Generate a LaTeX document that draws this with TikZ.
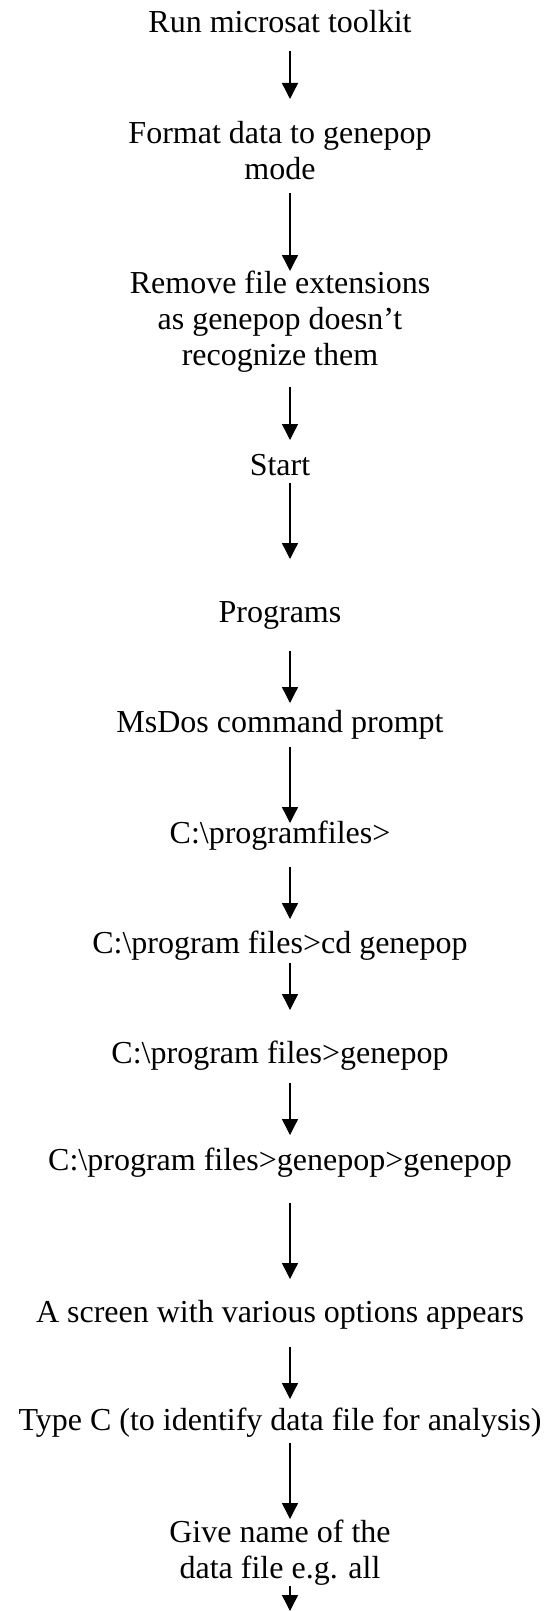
\documentclass[tikz,border=0pt]{standalone}
\usepackage{fontspec}
\setmainfont{Liberation Serif}
\usetikzlibrary{arrows.meta}
\tikzset{
  lbl/.style={inner sep=0pt, anchor=base, align=center, font=\fontsize{16pt}{18pt}\selectfont},
  arr/.style={-{Triangle[length=8pt,width=8pt]}, line width=0.7pt}
}
\begin{document}
\begin{tikzpicture}[x=0.5pt,y=-0.5pt]
\useasboundingbox (0,0) rectangle (547,1611);
\coordinate (ax) at (290,0);
\node[lbl] (n1) at (280,33) {Run microsat toolkit};
\node[lbl] (n2) at (280,179) {Format data to genepop\\mode};
\node[lbl] (n3) at (280,365) {Remove file extensions\\as genepop doesn’t\\recognize them};
\node[lbl] (n4) at (280,475) {Start};
\node[lbl] (n5) at (280,622) {Programs};
\node[lbl] (n6) at (280,732) {MsDos command prompt};
\node[lbl] (n7) at (280,843) {C:\textbackslash programfiles>};
\node[lbl] (n8) at (280,953) {C:\textbackslash program files>cd genepop};
\node[lbl] (n9) at (280,1063) {C:\textbackslash program files>genepop};
\node[lbl] (n10) at (280,1170) {C:\textbackslash program files>genepop>genepop};
\node[lbl] (n11) at (280,1322) {A screen with various options appears};
\node[lbl] (n12) at (280,1430) {Type C (to identify data file for analysis)};
\node[lbl] (n13) at (280,1578) {Give name of the\\data file e.g. all};
\coordinate (fin) at (290,1611);
\draw[arr, shorten <=9pt, shorten >=40pt] (n1.base -| ax) -- (n2.base -| ax);
\draw[arr, shorten <=7pt, shorten >=47pt] (n2.base -| ax) -- (n3.base -| ax);
\draw[arr, shorten <=11pt, shorten >=17.5pt] (n3.base -| ax) -- (n4.base -| ax);
\draw[arr, shorten <=4pt, shorten >=31.5pt] (n4.base -| ax) -- (n5.base -| ax);
\draw[arr, shorten <=14.5pt, shorten >=14.5pt] (n5.base -| ax) -- (n6.base -| ax);
\draw[arr, shorten <=7.5pt, shorten >=10pt] (n6.base -| ax) -- (n7.base -| ax);
\draw[arr, shorten <=12pt, shorten >=17pt] (n7.base -| ax) -- (n8.base -| ax);
\draw[arr, shorten <=5pt, shorten >=26.5pt] (n8.base -| ax) -- (n9.base -| ax);
\draw[arr, shorten <=10pt, shorten >=17.5pt] (n9.base -| ax) -- (n10.base -| ax);
\draw[arr, shorten <=16.5pt, shorten >=21.5pt] (n10.base -| ax) -- (n11.base -| ax);
\draw[arr, shorten <=12.5pt, shorten >=15.5pt] (n11.base -| ax) -- (n12.base -| ax);
\draw[arr, shorten <=6.5pt, shorten >=29.5pt] (n12.base -| ax) -- (n13.base -| ax);
\draw[arr, shorten <=4pt] (n13.base -| ax) -- (fin);
\end{tikzpicture}
\end{document}
